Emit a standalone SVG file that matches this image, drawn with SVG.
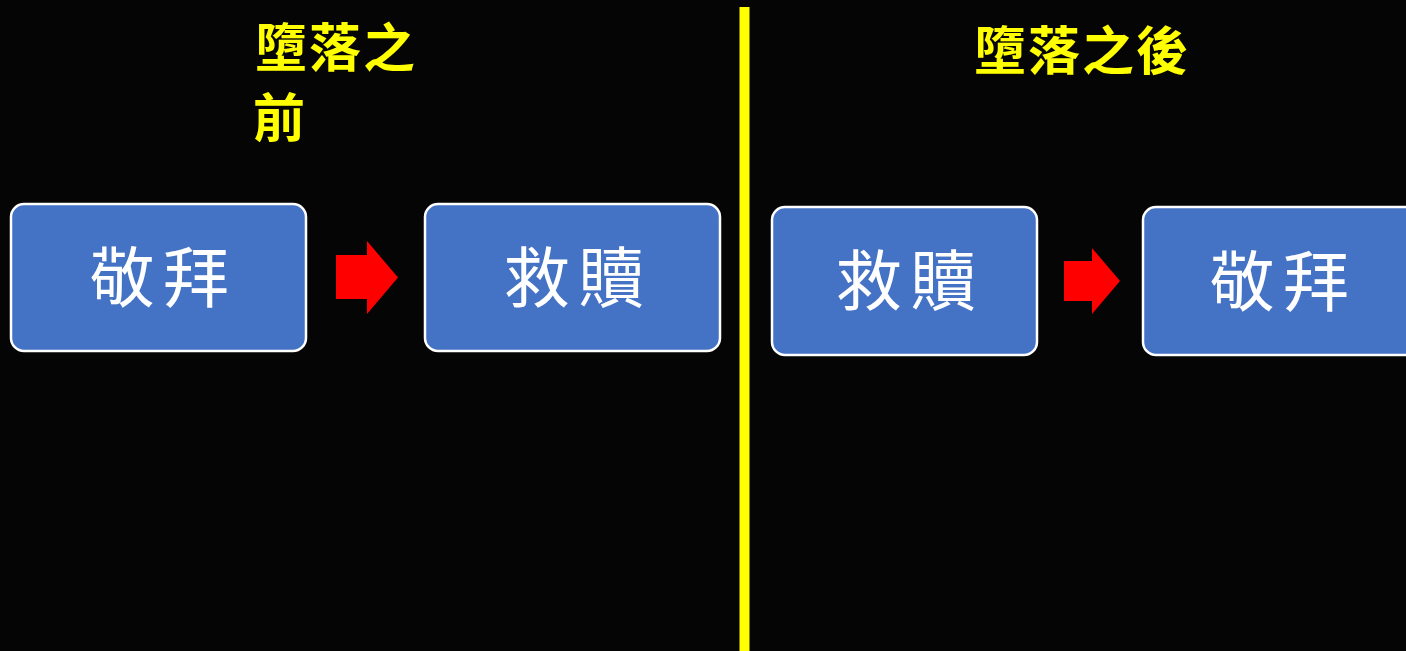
<svg xmlns="http://www.w3.org/2000/svg" width="1406" height="651" viewBox="0 0 1406 651">
<style>
.box{fill:#4472C4;stroke:#FFFFFF;stroke-width:2.5}
.lbl{fill:#FFFFFF;font-family:"Noto Sans CJK TC","Noto Sans CJK SC",sans-serif;font-size:66px;text-anchor:middle;dominant-baseline:central;letter-spacing:8px}
.ttl{fill:#FFFF00;font-family:"Noto Sans CJK TC","Noto Sans CJK SC",sans-serif;font-size:52px;font-weight:bold;letter-spacing:2px}
.arr{fill:#FF0000}
</style>
<rect x="0" y="0" width="1406" height="651" fill="#050505"/>
<rect x="739.5" y="7" width="10" height="644" fill="#FFFF00"/>
<g id="title-before">
<text class="ttl" x="255" y="67">墮落之</text>
<text class="ttl" x="253" y="137">前</text>
</g>
<g id="title-after">
<text class="ttl" x="974" y="70">墮落之後</text>
</g>
<g id="node-worship-1">
<rect class="box" x="11" y="204" width="295" height="147" rx="13"/>
<text class="lbl" x="163" y="273">敬拜</text>
</g>
<g id="node-redeem-1">
<rect class="box" x="425" y="204" width="295" height="147" rx="13"/>
<text class="lbl" x="578" y="273">救贖</text>
</g>
<g id="node-redeem-2">
<rect class="box" x="772" y="207" width="265" height="148" rx="13"/>
<text class="lbl" x="910" y="276">救贖</text>
</g>
<g id="node-worship-2">
<rect class="box" x="1143" y="207" width="290" height="148" rx="13"/>
<text class="lbl" x="1283" y="277">敬拜</text>
</g>
<g id="connectors">
<polygon class="arr" points="336,255 367,255 367,241 398,277.5 367,314 367,299 336,299"/>
<polygon class="arr" points="1064,261 1092,261 1092,248 1120,281 1092,314 1092,301 1064,301"/>
</g>
</svg>
